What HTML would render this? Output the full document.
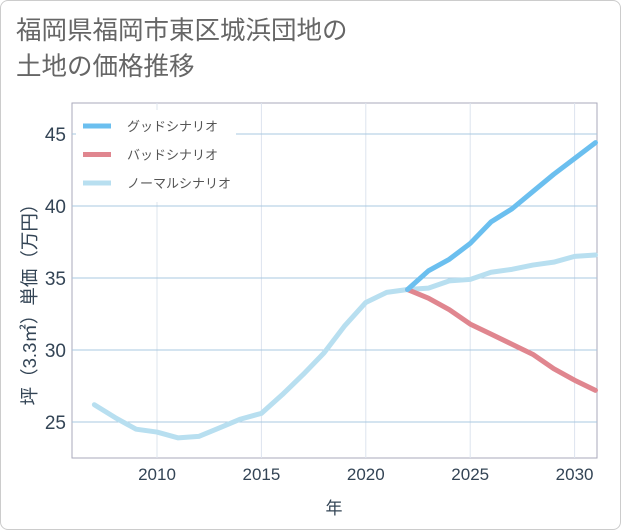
<!DOCTYPE html>
<html><head><meta charset="utf-8"><style>
body{margin:0;background:#fff;font-family:"Liberation Sans","Noto Sans CJK JP",sans-serif}
#card{position:absolute;left:0;top:0;width:619px;height:528px;border:1px solid #ccc;border-radius:8px;background:#fff}
#title{position:absolute;left:16px;top:13px;font-size:25.5px;line-height:36px;color:#666}
</style></head><body>
<div id="card"></div>
<div id="title">福岡県福岡市東区城浜団地の<br>土地の価格推移</div>
<svg id="chart" width="621" height="530" style="position:absolute;left:0;top:0"></svg>
<script>
const years=[2007,2008,2009,2010,2011,2012,2013,2014,2015,2016,2017,2018,2019,2020,2021,2022,2023,2024,2025,2026,2027,2028,2029,2030,2031];
const normal=[26.2,25.3,24.5,24.3,23.9,24.0,24.6,25.2,25.6,26.9,28.3,29.8,31.7,33.3,34.0,34.2,34.3,34.8,34.9,35.4,35.6,35.9,36.1,36.5,36.6];
const futYears=[2022,2023,2024,2025,2026,2027,2028,2029,2030,2031];
const good=[34.2,35.5,36.3,37.4,38.9,39.8,41.0,42.2,43.3,44.4];
const bad=[34.2,33.6,32.8,31.8,31.1,30.4,29.7,28.7,27.9,27.2];
const xTicks=[2010,2015,2020,2025,2030];
const yTicks=[25,30,35,40,45];
const L=72,R=597,T=103,B=458;
const X=v=>157+(v-2010)*20.88;
const Y=v=>422-(v-25)*14.4;
const svg=document.getElementById('chart');const NS='http://www.w3.org/2000/svg';
function mk(t,a,p){const e=document.createElementNS(NS,t);for(const k in a)e.setAttribute(k,a[k]);(p||svg).appendChild(e);return e;}
const r=mk('rect',{x:L,y:T,width:R-L,height:B-T,fill:'#fff',stroke:'#aab',"stroke-width":1});

xTicks.forEach(v=>{const g=mk('line',{x1:X(v),x2:X(v),y1:T,y2:B,stroke:'#dde4ee'});

const t=mk('text',{x:X(v),y:480,"text-anchor":'middle',"font-size":17,fill:'#345'});t.textContent=v;
});
yTicks.forEach(v=>{const g=mk('line',{x1:L,x2:R,y1:Y(v),y2:Y(v),stroke:'#a8c8e0'});

const t=mk('text',{x:66,y:Y(v)+7,"text-anchor":'end',"font-size":19,fill:'#345'});t.textContent=v;
});
function line(xs,ys,c,n){const p=mk('polyline',{points:xs.map((x,i)=>X(x)+','+Y(ys[i])).join(' '),fill:'none',stroke:c,"stroke-width":5,"stroke-linejoin":'round',"stroke-linecap":'round'});
}
line(years,normal,'#b8dff0','normal-line');
line(futYears,bad,'#e0868f','bad-line');
line(futYears,good,'#6bbfef','good-line');
const lg=mk('rect',{x:76,y:110,width:160,height:92,fill:'#fff'});

[['グッドシナリオ','#6bbfef'],['バッドシナリオ','#e0868f'],['ノーマルシナリオ','#b8dff0']].forEach((d,i)=>{
const y=126+i*28.5;const s=mk('line',{x1:83,x2:111,y1:y,y2:y,stroke:d[1],"stroke-width":5});

const t=mk('text',{x:127,y:y+5,"font-size":13,fill:'#555'});t.textContent=d[0];
});
const xt=mk('text',{x:334,y:514,"text-anchor":'middle',"font-size":17,fill:'#345'});xt.textContent='年';

const yt=mk('text',{x:0,y:0,"text-anchor":'middle',"font-size":18.5,fill:'#345',transform:'translate(36,300) rotate(-90)'});yt.textContent='坪（3.3㎡）単価（万円）';

</script>
</body></html>
